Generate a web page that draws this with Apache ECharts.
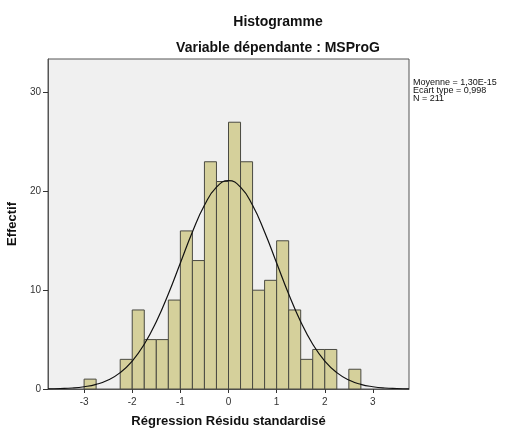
<!DOCTYPE html>
<html>
<head>
<meta charset="utf-8">
<script src="https://cdn.jsdelivr.net/npm/echarts@6/dist/echarts.min.js"></script>
<style>html,body{margin:0;padding:0;background:#fff}#c{width:507px;height:428px}</style>
</head>
<body>
<div id="c"></div>
<script>
// Histogram bins (lower edge, upper edge) and counts
var binStarts = [-3.0, -2.25, -2.0, -1.75, -1.5, -1.25, -1.0, -0.75, -0.5, -0.25, 0.0, 0.25, 0.5, 0.75, 1.0, 1.25, 1.5, 1.75, 2.0, 2.5];
var binWidth = 0.25;
var counts = [1, 3, 8, 5, 5, 9, 16, 13, 23, 21, 27, 23, 10, 11, 15, 8, 3, 4, 4, 2];
// Normal curve
var curveX = [-3.75,-3.5,-3.25,-3.0,-2.75,-2.5,-2.25,-2.0,-1.75,-1.5,-1.25,-1.0,-0.75,-0.5,-0.25,0.0,0.25,0.5,0.75,1.0,1.25,1.5,1.75,2.0,2.25,2.5,2.75,3.0,3.25,3.5,3.75];
var curveY = [0.02,0.05,0.1,0.23,0.47,0.91,1.66,2.83,4.53,6.81,9.62,12.76,15.9,18.59,20.43,21.08,20.43,18.59,15.9,12.76,9.62,6.81,4.53,2.83,1.66,0.91,0.47,0.23,0.1,0.05,0.02];
var xTicks = [-3, -2, -1, 0, 1, 2, 3];
var yTicks = [0, 10, 20, 30];
var statsLines = ['Moyenne = 1,30E-15', 'Ecart type = 0,998', 'N = 211'];

var barData = binStarts.map(function (s, i) { return [s, s + binWidth, counts[i]]; });
var lineData = curveX.map(function (x, i) { return [x, curveY[i]]; });

var FONT = '"Liberation Sans", Arial, sans-serif';
var chart = echarts.init(document.getElementById('c'), null, { renderer: 'canvas' });
chart.setOption({
  animation: false,
  backgroundColor: '#ffffff',
  title: [
    { text: 'Histogramme', left: 273, top: 10, textAlign: 'center',
      textStyle: { fontFamily: FONT, fontSize: 14, fontWeight: 'bold', color: '#111' } },
    { text: 'Variable dépendante : MSProG', left: 273, top: 36, textAlign: 'center',
      textStyle: { fontFamily: FONT, fontSize: 14, fontWeight: 'bold', color: '#111' } },
    { text: statsLines.join('\n'), left: 408, top: 74,
      textStyle: { fontFamily: FONT, fontSize: 9, fontWeight: 'normal', color: '#111', lineHeight: 8 } }
  ],
  grid: { left: 48, right: 98, top: 59, bottom: 39, containLabel: false, outerBoundsMode: 'none',
    show: true, backgroundColor: '#f0f0f0', borderColor: '#555', borderWidth: 1 },
  xAxis: {
    type: 'value', min: -3.75, max: 3.75,
    name: 'Régression Résidu standardisé', nameLocation: 'middle', nameGap: 26,
    nameTextStyle: { fontFamily: FONT, fontSize: 13, fontWeight: 'bold', color: '#111' },
    axisLine: { show: true, onZero: false, lineStyle: { color: '#555' } },
    axisTick: { show: true, length: 4, customValues: xTicks, lineStyle: { color: '#333' } },
    axisLabel: { customValues: xTicks, fontFamily: FONT, fontSize: 10, color: '#333', margin: 8 },
    splitLine: { show: false }
  },
  yAxis: {
    type: 'value', min: 0, max: 33.4,
    name: 'Effectif', nameLocation: 'middle', nameGap: 23, nameRotate: 90,
    nameTextStyle: { fontFamily: FONT, fontSize: 13, fontWeight: 'bold', color: '#111' },
    axisLine: { show: true, onZero: false, lineStyle: { color: '#555' } },
    axisTick: { show: true, length: 5, customValues: yTicks, lineStyle: { color: '#333' } },
    axisLabel: { customValues: yTicks, fontFamily: FONT, fontSize: 10, color: '#333', margin: 7 },
    splitLine: { show: false }
  },
  series: [
    {
      type: 'custom',
      data: barData,
      encode: { x: [0, 1], y: 2 },
      renderItem: function (params, api) {
        var p0 = api.coord([api.value(0), 0]);
        var p1 = api.coord([api.value(1), api.value(2)]);
        return {
          type: 'rect',
          shape: { x: p0[0], y: p1[1], width: p1[0] - p0[0], height: p0[1] - p1[1] },
          style: { fill: '#d5d09b', stroke: '#4a4a42', lineWidth: 1 }
        };
      },
      z: 2
    },
    {
      type: 'line',
      data: lineData,
      smooth: true,
      symbol: 'none',
      lineStyle: { color: '#111', width: 1.2 },
      z: 3
    }
  ]
});
</script>
</body>
</html>
